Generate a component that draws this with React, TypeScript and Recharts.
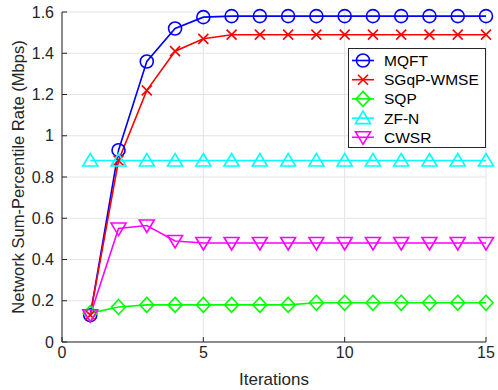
import React from "react";
import { LineChart, Line, XAxis, YAxis, CartesianGrid } from "recharts";

const iterations = [1, 2, 3, 4, 5, 6, 7, 8, 9, 10, 11, 12, 13, 14, 15];
const mqft = [0.13, 0.93, 1.36, 1.52, 1.575, 1.58, 1.58, 1.58, 1.58, 1.58, 1.58, 1.58, 1.58, 1.58, 1.58];
const sgqp = [0.13, 0.88, 1.22, 1.41, 1.47, 1.49, 1.49, 1.49, 1.49, 1.49, 1.49, 1.49, 1.49, 1.49, 1.49];
const sqp = [0.14, 0.17, 0.18, 0.18, 0.18, 0.18, 0.18, 0.18, 0.19, 0.19, 0.19, 0.19, 0.19, 0.19, 0.19];
const zfn = [0.88, 0.88, 0.88, 0.88, 0.88, 0.88, 0.88, 0.88, 0.88, 0.88, 0.88, 0.88, 0.88, 0.88, 0.88];
const cwsr = [0.13, 0.55, 0.565, 0.49, 0.48, 0.48, 0.48, 0.48, 0.48, 0.48, 0.48, 0.48, 0.48, 0.48, 0.48];

const xTicks = [0, 5, 10, 15];
const yTicks = [0, 0.2, 0.4, 0.6, 0.8, 1, 1.2, 1.4, 1.6];

const series = [
  { key: "mqft", name: "MQFT", color: "#0000ff", marker: "circle", values: mqft },
  { key: "sgqp", name: "SGqP-WMSE", color: "#ff0000", marker: "cross", values: sgqp },
  { key: "sqp", name: "SQP", color: "#00ff00", marker: "diamond", values: sqp },
  { key: "zfn", name: "ZF-N", color: "#00ffff", marker: "triangle", values: zfn },
  { key: "cwsr", name: "CWSR", color: "#ff00ff", marker: "down", values: cwsr },
];

const data = iterations.map((it, i) => {
  const row: Record<string, number> = { it };
  series.forEach((s) => (row[s.key] = s.values[i]));
  return row;
});

const FONT = "'Liberation Sans', Arial, sans-serif";
const TEXT = "#262626";

function Marker({ type, cx, cy, color }: { type: string; cx: number; cy: number; color: string }) {
  const sw = 1.6;
  if (type === "circle")
    return <circle cx={cx} cy={cy} r={6.5} fill="none" stroke={color} strokeWidth={sw} />;
  if (type === "cross")
    return (
      <g stroke={color} strokeWidth={sw}>
        <line x1={cx - 5} y1={cy - 5} x2={cx + 5} y2={cy + 5} />
        <line x1={cx - 5} y1={cy + 5} x2={cx + 5} y2={cy - 5} />
      </g>
    );
  if (type === "diamond")
    return (
      <polygon
        points={`${cx},${cy - 7.5} ${cx + 7},${cy} ${cx},${cy + 7.5} ${cx - 7},${cy}`}
        fill="none"
        stroke={color}
        strokeWidth={sw}
      />
    );
  if (type === "triangle")
    return (
      <polygon
        points={`${cx},${cy - 7} ${cx + 7.5},${cy + 5.5} ${cx - 7.5},${cy + 5.5}`}
        fill="none"
        stroke={color}
        strokeWidth={sw}
      />
    );
  return (
    <polygon
      points={`${cx},${cy + 7} ${cx + 7.5},${cy - 5.5} ${cx - 7.5},${cy - 5.5}`}
      fill="none"
      stroke={color}
      strokeWidth={sw}
    />
  );
}

function LegendBox() {
  return (
    <svg width={139} height={101} style={{ display: "block" }}>
      <rect x={0.5} y={0.5} width={137} height={99} fill="#fff" stroke={TEXT} strokeWidth={1} />
      {series.map((s, i) => {
        const y = 12.5 + i * 19.2;
        return (
          <g key={s.key}>
            <line x1={4} y1={y} x2={26} y2={y} stroke={s.color} strokeWidth={1.6} />
            <Marker type={s.marker} cx={15} cy={y} color={s.color} />
            <text x={36} y={y + 5.5} fontSize={15.5} fill="#000" fontFamily={FONT}>
              {s.name}
            </text>
          </g>
        );
      })}
    </svg>
  );
}

export default function App() {
  return (
    <div style={{ position: "absolute", left: 0, top: 0, width: 498, height: 390, background: "#fff" }}>
      <LineChart width={498} height={390} data={data} margin={{ top: 12, right: 12, left: 0, bottom: 0 }}>
        <CartesianGrid stroke="#e3e3e3" strokeWidth={1} />
        <XAxis
          dataKey="it"
          type="number"
          domain={[0, 15]}
          ticks={xTicks}
          height={48}
          tickSize={-5}
          tickLine={{ stroke: TEXT }}
          axisLine={{ stroke: TEXT }}
          tick={{ fill: TEXT, fontSize: 16, fontFamily: FONT }}
          tickMargin={10}
          label={{ value: "Iterations", position: "insideBottom", offset: 5, fill: TEXT, fontSize: 17, fontFamily: FONT }}
        />
        <YAxis
          type="number"
          domain={[0, 1.6]}
          ticks={yTicks}
          width={62}
          tickSize={-5}
          tickLine={{ stroke: TEXT }}
          axisLine={{ stroke: TEXT }}
          tick={{ fill: TEXT, fontSize: 16, fontFamily: FONT }}
          tickMargin={13}
          tickFormatter={(v: number) => String(Math.round(v * 10) / 10)}
          label={{
            value: "Network Sum-Percentile Rate (Mbps)",
            angle: -90,
            position: "insideLeft",
            offset: 18,
            style: { textAnchor: "middle" },
            fill: TEXT,
            fontSize: 16.5,
            fontFamily: FONT,
          }}
        />
        {series.map((s) => (
          <Line
            key={s.key}
            dataKey={s.key}
            name={s.name}
            stroke={s.color}
            strokeWidth={1.6}
            isAnimationActive={false}
            dot={(p: any) => <Marker key={`${s.key}-${p.index}`} type={s.marker} cx={p.cx} cy={p.cy} color={s.color} />}
            activeDot={false}
          />
        ))}
      </LineChart>
      <div style={{ position: "absolute", left: 348, top: 48 }}>
        <LegendBox />
      </div>
    </div>
  );
}
